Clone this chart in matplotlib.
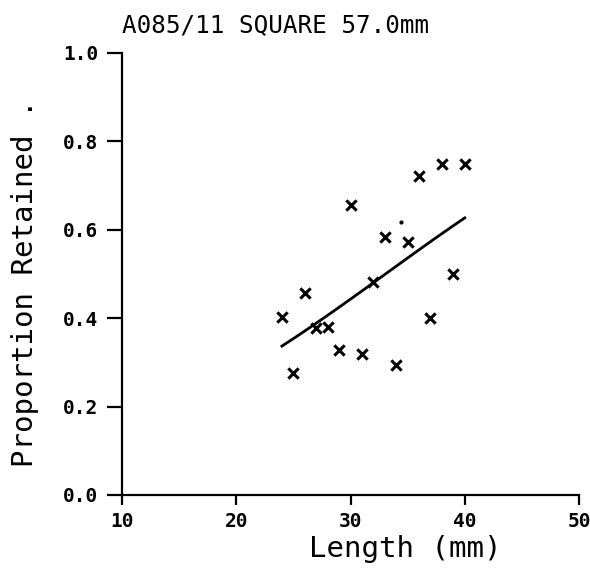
import numpy as np
import matplotlib
matplotlib.use("Agg")
import matplotlib.pyplot as plt

# Observed proportion retained at each length class
length_mm = [24, 25, 26, 27, 28, 29, 30, 31, 32, 33, 34, 35, 36, 37, 38, 39, 40]
retained = [0.402, 0.275, 0.456, 0.378, 0.381, 0.328, 0.656, 0.319, 0.481,
            0.584, 0.294, 0.572, 0.722, 0.401, 0.750, 0.501, 0.750]

# Logistic selection curve: logit(p) = fit_intercept + fit_slope * length
fit_intercept = -2.471
fit_slope = 0.07475
fit_range = [24, 40]

# Stray plotter dot
stray_x = [34.45]
stray_y = [0.617]

x_ticks = [10, 20, 30, 40, 50]
y_ticks = [0.0, 0.2, 0.4, 0.6, 0.8, 1.0]
title = "A085/11 SQUARE 57.0mm"
x_label = "Length (mm)"
y_label = "Proportion Retained ."

W, H = 590, 568
fig = plt.figure(figsize=(W / 100, H / 100), dpi=100)
fig.patch.set_facecolor("white")

left, right, top, bottom = 122, 579, 53, 495
ax = fig.add_axes([left / W, 1 - bottom / H, (right - left) / W, (bottom - top) / H])

mono = "DejaVu Sans Mono"

ax.scatter(length_mm, retained, marker="x", s=55, linewidths=2.2, color="black", zorder=3)
ax.scatter(stray_x, stray_y, marker="o", s=4, color="black", zorder=3)

xs = np.linspace(fit_range[0], fit_range[1], 100)
ys = 1 / (1 + np.exp(-(fit_intercept + fit_slope * xs)))
ax.plot(xs, ys, color="black", lw=2.0, zorder=2)

ax.set_xlim(10, 50)
ax.set_ylim(0, 1)
ax.set_xticks(x_ticks)
ax.set_yticks(y_ticks)
ax.set_xticklabels([str(v) for v in x_ticks], family=mono, fontsize=14, fontweight="bold")
ax.set_yticklabels([f"{v:.1f}" for v in y_ticks], family=mono, fontsize=14, fontweight="bold")

for side in ("top", "right"):
    ax.spines[side].set_visible(False)
for side in ("left", "bottom"):
    ax.spines[side].set_linewidth(1.6)
    ax.spines[side].set_color("black")

ax.tick_params(axis="y", direction="out", length=11, width=1.6, pad=6)
ax.tick_params(axis="x", direction="out", length=7, width=1.6, pad=5)

fig.text(122 / W, 1 - 25 / H, title, family=mono, fontsize=17.5,
         ha="left", va="center")
fig.text(405 / W, 1 - 549 / H, x_label, family=mono, fontsize=21,
         ha="center", va="center")
fig.text(25 / W, 1 - 283 / H, y_label, family=mono, fontsize=21,
         ha="center", va="center", rotation=90)

fig.savefig("out.png", dpi=100, facecolor="white")
